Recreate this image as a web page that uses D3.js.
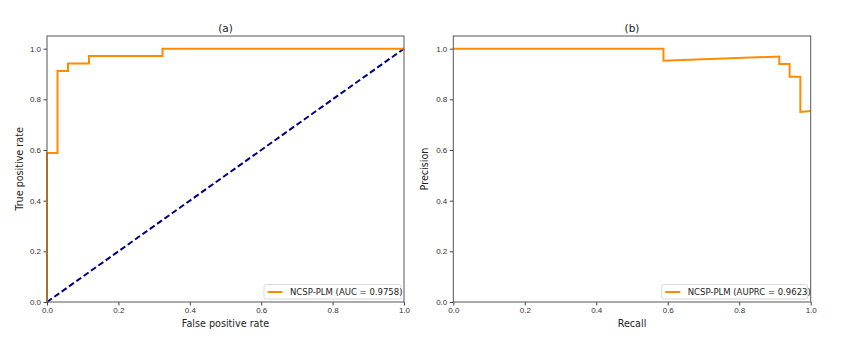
<!DOCTYPE html>
<html>
<head>
<meta charset="utf-8">
<script src="https://cdn.jsdelivr.net/npm/d3@7"></script>
<style>
  body { margin: 0; background: #fff; }
  svg { font-family: "DejaVu Sans", sans-serif; }
</style>
</head>
<body>
<svg id="chart" width="847" height="350"></svg>
<script>
// ROC curve (a)
const rocFpr = [0, 0, 0.0294, 0.0294, 0.0588, 0.0588, 0.1176, 0.1176, 0.3235, 0.3235, 1.0]
const rocTpr = [0, 0.588, 0.588, 0.912, 0.912, 0.941, 0.941, 0.971, 0.971, 1.0, 1.0]
const chance = [0, 1]

// PR curve (b)
const prRecall = [0, 0.588, 0.588, 0.912, 0.912, 0.941, 0.941, 0.971, 0.971, 1.0]
const prPrecision = [1.0, 1.0, 0.952, 0.969, 0.939, 0.939, 0.889, 0.889, 0.750, 0.754]

const ticks = [0, 0.2, 0.4, 0.6, 0.8, 1.0]
const titles = ["(a)", "(b)"]
const xLabels = ["False positive rate", "Recall"]
const yLabels = ["True positive rate", "Precision"]
const legendLabels = ["NCSP-PLM (AUC = 0.9758)", "NCSP-PLM (AUPRC = 0.9623)"]

const svg = d3.select("#chart")
const plotTop = 36, plotBottom = 302
const panels = [
  { left: 47, right: 404, ylabX: 20, legendW: 137 },
  { left: 453.3, right: 810.7, ylabX: 425, legendW: 146 }
]

const y = d3.scaleLinear().domain([0, 1.05]).range([plotBottom, plotTop])
const fmt = d3.format(".1f")

const drawPanel = (i, series) => {
  const p = panels[i]
  const x = d3.scaleLinear().domain([0, 1]).range([p.left, p.right])
  const g = svg.append("g")

  const xAxis = g.append("g")
    .attr("transform", `translate(0,${plotBottom})`)
    .call(d3.axisBottom(x).tickValues(ticks).tickFormat(fmt).tickSize(3.5).tickPadding(2))
  const yAxis = g.append("g")
    .attr("transform", `translate(${p.left},0)`)
    .call(d3.axisLeft(y).tickValues(ticks).tickFormat(fmt).tickSize(3.5).tickPadding(2.5))
  for (const ax of [xAxis, yAxis]) {
    ax.select(".domain").remove()
    ax.selectAll("text").attr("font-size", 8).attr("fill", "#333")
    ax.selectAll("line").attr("stroke", "#444")
  }

  const line = d3.line().x(d => x(d[0])).y(d => y(d[1]))
  series.forEach(s => {
    g.append("path")
      .attr("d", line(s.xs.map((v, k) => [v, s.ys[k]])))
      .attr("fill", "none")
      .attr("stroke", s.color)
      .attr("stroke-width", s.width)
      .attr("stroke-dasharray", s.dash || null)
  })

  g.append("rect")
    .attr("x", p.left).attr("y", plotTop)
    .attr("width", p.right - p.left).attr("height", plotBottom - plotTop)
    .attr("fill", "none").attr("stroke", "#555").attr("stroke-width", 1)

  const cx = (p.left + p.right) / 2
  g.append("text").attr("x", cx).attr("y", 32).attr("text-anchor", "middle")
    .attr("font-size", 10.5).attr("fill", "#222").text(titles[i])
  g.append("text").attr("x", cx).attr("y", 326.5).attr("text-anchor", "middle")
    .attr("font-size", 9.6).attr("fill", "#222").text(xLabels[i])
  g.append("text")
    .attr("transform", `translate(${p.ylabX},${(plotTop + plotBottom) / 2}) rotate(-90)`)
    .attr("text-anchor", "middle").attr("dominant-baseline", "middle")
    .attr("font-size", 9.6).attr("fill", "#222").text(yLabels[i])

  // legend
  const lx = p.right - 3 - p.legendW, ly = 284.5
  const lg = g.append("g")
  lg.append("rect").attr("x", lx).attr("y", ly).attr("width", p.legendW).attr("height", 14.5)
    .attr("rx", 2).attr("fill", "#fff").attr("fill-opacity", 0.8)
    .attr("stroke", "#d0d0d0").attr("stroke-width", 0.8)
  lg.append("line").attr("x1", lx + 3.5).attr("x2", lx + 18.5)
    .attr("y1", ly + 7.5).attr("y2", ly + 7.5)
    .attr("stroke", "darkorange").attr("stroke-width", 2)
  lg.append("text").attr("x", lx + 26).attr("y", ly + 7.5)
    .attr("dominant-baseline", "central").attr("font-size", 8.5).attr("fill", "#222")
    .text(legendLabels[i])
}

drawPanel(0, [
  { xs: chance, ys: chance, color: "navy", width: 2, dash: "6,3" },
  { xs: rocFpr, ys: rocTpr, color: "darkorange", width: 2 }
])
drawPanel(1, [
  { xs: prRecall, ys: prPrecision, color: "darkorange", width: 2 }
])
</script>
</body>
</html>
